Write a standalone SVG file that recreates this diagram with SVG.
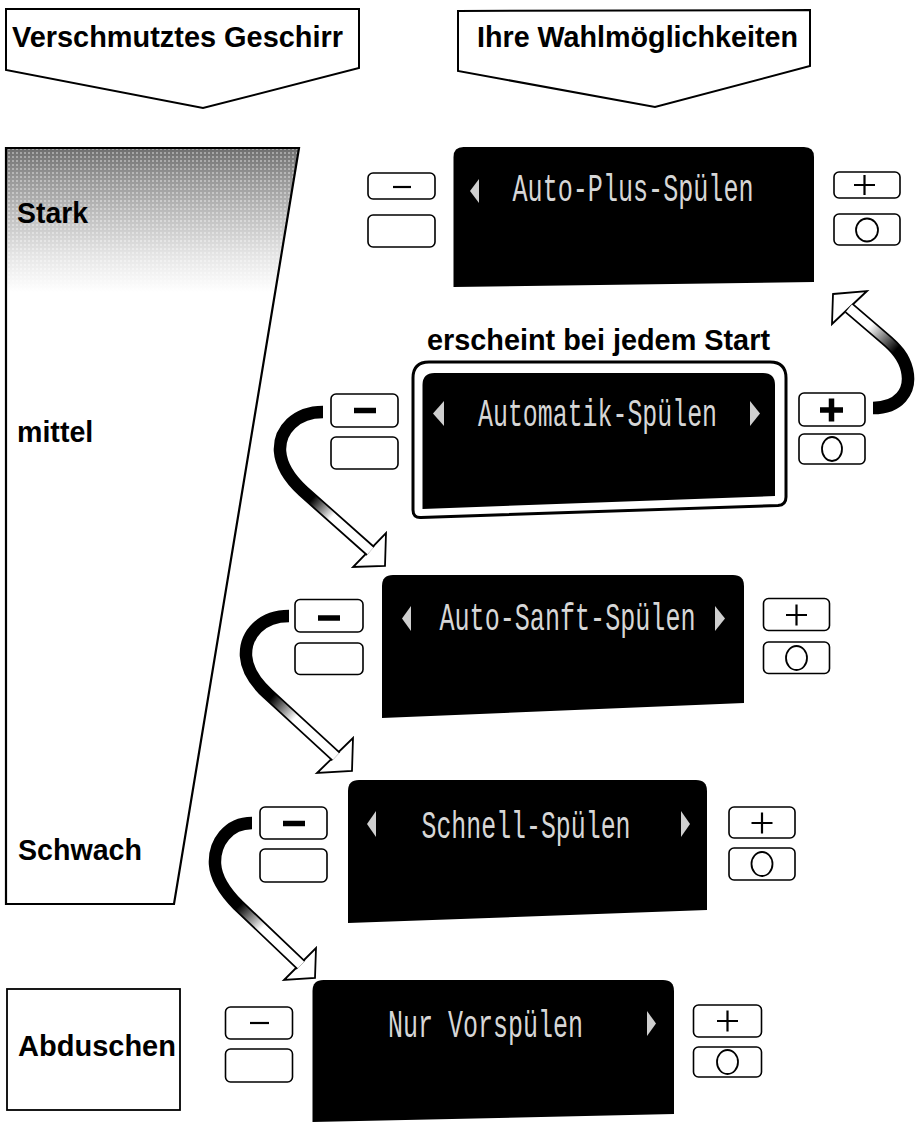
<svg xmlns="http://www.w3.org/2000/svg" width="917" height="1122" viewBox="0 0 917 1122">
<style>
.bt{font-family:"Liberation Sans",Arial,sans-serif;font-weight:bold;font-size:28.6px;fill:#000}
.lcd{font-family:"Liberation Mono","DejaVu Sans Mono",monospace;font-size:38px;fill:#d6d6d6}
.tri{fill:#cfcfcf}
.box{fill:#fff;stroke:#000;stroke-width:2}
.btn{fill:#fff;stroke:#000;stroke-width:1.6}
.g{stroke:#000;stroke-width:2.2;fill:none}
.gb{stroke:#000;stroke-width:5.5;fill:none}
.disp{fill:#000}
.sh-o{fill:none;stroke:#000;stroke-width:12.5}
.head{fill:#fff;stroke:#000;stroke-width:1.8;stroke-linejoin:miter}
</style>
<defs>
<linearGradient id="dirt" gradientUnits="userSpaceOnUse" x1="0" y1="148" x2="0" y2="292">
<stop offset="0" stop-color="#6e6e6e"/>
<stop offset="0.2" stop-color="#959595"/>
<stop offset="0.45" stop-color="#bdbdbd"/>
<stop offset="0.75" stop-color="#e6e6e6"/>
<stop offset="1" stop-color="#fff"/>
</linearGradient>
<pattern id="speck" width="4" height="4" patternUnits="userSpaceOnUse">
<rect width="2" height="2" fill="#fff" opacity="0.35"/>
</pattern>
<clipPath id="trapClip"><polygon points="6,148 299,148 174,904 6,904"/></clipPath>
<linearGradient id="ga1" gradientUnits="userSpaceOnUse" x1="896" y1="350" x2="870" y2="326"><stop offset="0" stop-color="#000"/><stop offset="1" stop-color="#fff"/></linearGradient>
<linearGradient id="ga2" gradientUnits="userSpaceOnUse" x1="312" y1="499" x2="332" y2="517"><stop offset="0" stop-color="#000"/><stop offset="1" stop-color="#fff"/></linearGradient>
<linearGradient id="ga3" gradientUnits="userSpaceOnUse" x1="272" y1="697" x2="296" y2="717"><stop offset="0" stop-color="#000"/><stop offset="1" stop-color="#fff"/></linearGradient>
<linearGradient id="ga4" gradientUnits="userSpaceOnUse" x1="240" y1="905" x2="262" y2="928"><stop offset="0" stop-color="#000"/><stop offset="1" stop-color="#fff"/></linearGradient>
</defs>
<rect width="917" height="1122" fill="#fff"/>

<g id="header-left">
<polygon class="box" points="6,9 359,9 359,68 203,108 6,70"/>
<text class="bt" x="12" y="47" textLength="331" lengthAdjust="spacingAndGlyphs">Verschmutztes Geschirr</text>
</g>
<g id="header-right">
<polygon class="box" points="458,11 810,10 810,66 655,107 458,71"/>
<text class="bt" x="477" y="47" textLength="321" lengthAdjust="spacingAndGlyphs">Ihre Wahlmöglichkeiten</text>
</g>

<g id="soil-scale">
<g clip-path="url(#trapClip)">
<rect x="0" y="148" width="300" height="145" fill="url(#dirt)"/>
<rect x="0" y="148" width="300" height="145" fill="url(#speck)"/>
</g>
<polygon points="6,148 299,148 174,904 6,904" fill="none" stroke="#000" stroke-width="2.2"/>
<text class="bt" x="17" y="223" textLength="71" lengthAdjust="spacingAndGlyphs">Stark</text>
<text class="bt" x="17" y="442">mittel</text>
<text class="bt" x="18" y="860" textLength="124" lengthAdjust="spacingAndGlyphs">Schwach</text>
</g>

<g id="abduschen">
<rect x="7" y="989" width="173" height="121" fill="#fff" stroke="#000" stroke-width="1.8"/>
<text class="bt" x="18" y="1056" textLength="158" lengthAdjust="spacingAndGlyphs">Abduschen</text>
</g>

<g id="display-auto-plus">
<path class="disp" d="M453.5 157 Q453.5 147 463.5 147 L804 147 Q814 147 814 157 L814 282 L453.5 287 Z"/>
<polygon class="tri" points="479,179 470,191 479,203"/>
<text class="lcd" x="512.5" y="201" textLength="241" lengthAdjust="spacingAndGlyphs">Auto-Plus-Spülen</text>
<rect class="btn" x="368" y="173" width="67" height="26" rx="5"/>
<line class="g" x1="393" y1="187" x2="411" y2="187"/>
<rect class="btn" x="368" y="215" width="67" height="32" rx="5"/>
<rect class="btn" x="834" y="172" width="66" height="26" rx="5"/>
<path class="g" d="M854 185 H875 M864.5 175 V195"/>
<rect class="btn" x="834" y="214" width="66" height="31" rx="5"/>
<ellipse cx="867" cy="230" rx="11" ry="11.5" fill="none" stroke="#000" stroke-width="1.8"/>
</g>

<g id="display-automatik">
<text class="bt" x="427" y="350" textLength="343" lengthAdjust="spacingAndGlyphs">erscheint bei jedem Start</text>
<path d="M413 378 Q413 362 429 362 L770 362 Q786 362 786 378 L786 497 Q786 505 778 505.5 L421 517.5 Q413 518 413 510 Z" fill="#fff" stroke="#000" stroke-width="3"/>
<path class="disp" d="M422.5 385 Q422.5 373 434.5 373 L763 373 Q775 373 775 385 L775 496 L422.5 509 Z"/>
<polygon class="tri" points="444,401 433,413.5 444,426"/>
<polygon class="tri" points="750,401 760,413.5 750,426"/>
<text class="lcd" x="478" y="426" textLength="239" lengthAdjust="spacingAndGlyphs">Automatik-Spülen</text>
<rect class="btn" x="331" y="394" width="67" height="33" rx="5"/>
<line class="gb" x1="354" y1="410.5" x2="376" y2="410.5"/>
<rect class="btn" x="331" y="437" width="67" height="32" rx="5"/>
<rect class="btn" x="799" y="393" width="66" height="33" rx="5"/>
<path class="gb" d="M820 410 H843 M831.5 398.5 V421.5"/>
<rect class="btn" x="799" y="434" width="66" height="30" rx="5"/>
<ellipse cx="832" cy="449" rx="10" ry="12" fill="none" stroke="#000" stroke-width="1.8"/>
</g>

<g id="display-auto-sanft">
<path class="disp" d="M382 586 Q382 575 393 575 L733 575 Q744 575 744 586 L744 703 L382 718 Z"/>
<polygon class="tri" points="411,606 402,618.5 411,631"/>
<polygon class="tri" points="715,606 725,618.5 715,631"/>
<text class="lcd" x="439.5" y="630" textLength="256" lengthAdjust="spacingAndGlyphs">Auto-Sanft-Spülen</text>
<rect class="btn" x="295" y="599.5" width="68" height="32.5" rx="5"/>
<line class="gb" x1="318" y1="618" x2="340" y2="618"/>
<rect class="btn" x="295" y="643" width="68" height="31.5" rx="5"/>
<rect class="btn" x="763.5" y="598.5" width="66" height="32" rx="5"/>
<path class="g" d="M786 615 H807 M796.5 604.5 V625.5"/>
<rect class="btn" x="763.5" y="642" width="66" height="31.5" rx="5"/>
<ellipse cx="796.5" cy="658" rx="10.5" ry="12" fill="none" stroke="#000" stroke-width="1.8"/>
</g>

<g id="display-schnell">
<path class="disp" d="M348 791 Q348 780 359 780 L696 780 Q707 780 707 791 L707 910 L348 923 Z"/>
<polygon class="tri" points="376,811 367,824 376,837"/>
<polygon class="tri" points="681,811 690,824 681,837"/>
<text class="lcd" x="421.5" y="838" textLength="209" lengthAdjust="spacingAndGlyphs">Schnell-Spülen</text>
<rect class="btn" x="260" y="807" width="67" height="32" rx="5"/>
<line class="gb" x1="283" y1="823.5" x2="305" y2="823.5"/>
<rect class="btn" x="260" y="849" width="67" height="33" rx="5"/>
<rect class="btn" x="729" y="807" width="66" height="31" rx="5"/>
<path class="g" d="M751.5 823 H772.5 M762 812.5 V833.5"/>
<rect class="btn" x="729" y="848" width="66" height="32" rx="5"/>
<ellipse cx="762" cy="864" rx="10.5" ry="12" fill="none" stroke="#000" stroke-width="1.8"/>
</g>

<g id="display-vorspuelen">
<path class="disp" d="M312.5 991 Q312.5 980 323.5 980 L663 980 Q674 980 674 991 L674 1114 L312.5 1122 Z"/>
<polygon class="tri" points="647,1011 656,1023.5 647,1036"/>
<text class="lcd" x="388" y="1037" textLength="195" lengthAdjust="spacingAndGlyphs">Nur Vorspülen</text>
<rect class="btn" x="225.5" y="1007" width="67" height="32" rx="5"/>
<line class="g" x1="250" y1="1023" x2="269" y2="1023"/>
<rect class="btn" x="225.5" y="1049" width="67" height="33" rx="5"/>
<rect class="btn" x="693.5" y="1005" width="68" height="32" rx="5"/>
<path class="g" d="M717 1021 H738 M727.5 1010.5 V1031.5"/>
<rect class="btn" x="693.5" y="1047" width="68" height="30" rx="5"/>
<ellipse cx="727.5" cy="1062" rx="10.5" ry="12" fill="none" stroke="#000" stroke-width="1.8"/>
</g>

<g id="connectors">
<g id="arrow-plus">
<polygon class="head" points="833,294 867,291 832,324"/>
<path class="sh-o" d="M873 408 C898 408 912 392 907 370 C904 357 896 348 884 338 L849 308"/>
<path d="M873 408 C898 408 912 392 907 370 C904 357 896 348 884 338 L849 308" fill="none" stroke="url(#ga1)" stroke-width="9"/>
</g>
<g id="arrow-minus-1">
<polygon class="head" points="386,533 385,566 353,567"/>
<path class="sh-o" d="M323 412 C296 412 279 430 280 451 C281 466 290 479 303 491 L370.5 551"/>
<path d="M323 412 C296 412 279 430 280 451 C281 466 290 479 303 491 L370.5 551" fill="none" stroke="url(#ga2)" stroke-width="9"/>
</g>
<g id="arrow-minus-2">
<polygon class="head" points="353,738 352,771 317,773"/>
<path class="sh-o" d="M289 616 C262 616 245 634 246 656 C247 671 256 683 268 694 L336 756.5"/>
<path d="M289 616 C262 616 245 634 246 656 C247 671 256 683 268 694 L336 756.5" fill="none" stroke="url(#ga3)" stroke-width="9"/>
</g>
<g id="arrow-minus-3">
<polygon class="head" points="316,948 315,978 284,980"/>
<path class="sh-o" d="M252 823 C228 823 214 843 215 864 C216 880 226 893 238 905 L301 965"/>
<path d="M252 823 C228 823 214 843 215 864 C216 880 226 893 238 905 L301 965" fill="none" stroke="url(#ga4)" stroke-width="9"/>
</g>
</g>
</svg>
